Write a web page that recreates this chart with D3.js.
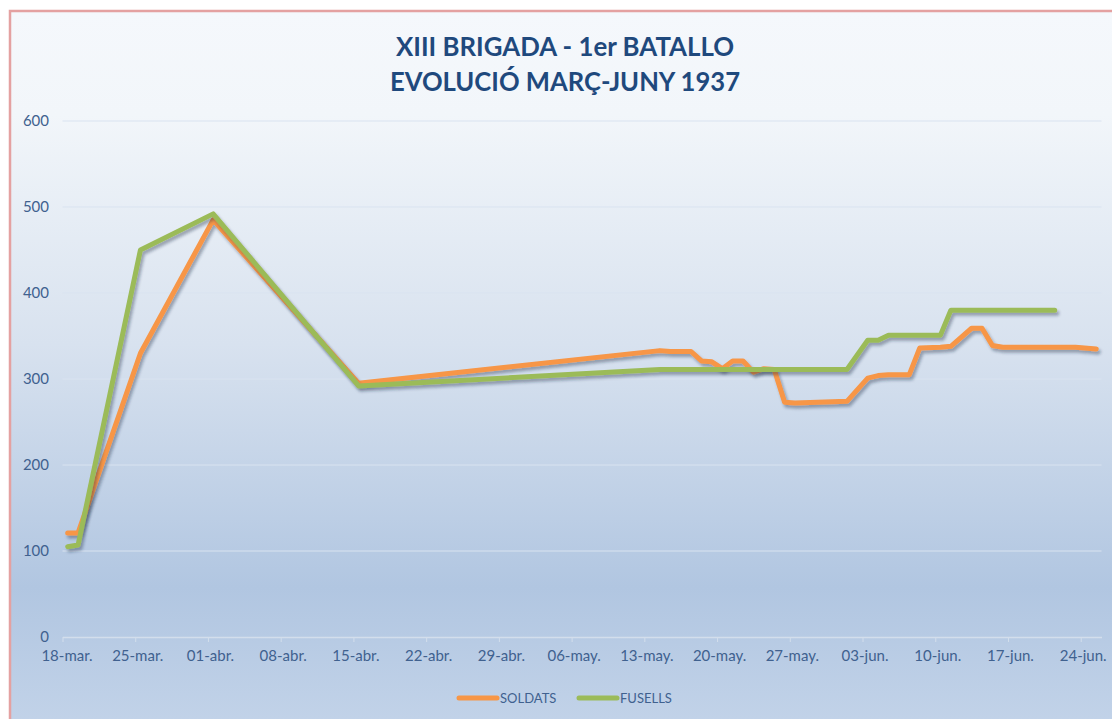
<!DOCTYPE html>
<html>
<head>
<meta charset="utf-8">
<script src="https://cdn.jsdelivr.net/npm/d3@7"></script>
<style>
  html, body { margin: 0; padding: 0; background: #ffffff; }
  svg { display: block; font-family: Lato, "Open Sans", sans-serif; }
</style>
</head>
<body>
<div id="chart"></div>
<script>
// data
const dates = [
  "1937-03-18", "1937-03-19", "1937-03-25", "1937-04-01", "1937-04-15",
  "1937-05-14", "1937-05-15", "1937-05-17", "1937-05-18", "1937-05-19",
  "1937-05-20", "1937-05-21", "1937-05-22", "1937-05-23", "1937-05-24",
  "1937-05-25", "1937-05-26", "1937-05-27", "1937-06-01", "1937-06-03",
  "1937-06-04", "1937-06-05", "1937-06-07", "1937-06-08", "1937-06-10",
  "1937-06-11", "1937-06-13", "1937-06-14", "1937-06-15", "1937-06-16",
  "1937-06-21", "1937-06-23", "1937-06-25"
];
const soldats = [
  121, 121, 330, 485, 295,
  333, 332, 332, 321, 320,
  312, 321, 321, 308, 312,
  311, 273, 272, 274, 301,
  304, 305, 305, 336, 337,
  338, 359, 359, 339, 337,
  337, 337, 335
];
const fusells = [
  105, 107, 450, 492, 292,
  311, 311, 311, 311, 311,
  311, 311, 311, 311, 311,
  311, 311, 311, 311, 345,
  345, 351, 351, 351, 351,
  380, 380, 380, 380, 380,
  380, null, null
];
const seriesNames = ["SOLDATS", "FUSELLS"];
const seriesColors = ["#f79646", "#9bbb59"];
const monthLabels = ["ene.", "feb.", "mar.", "abr.", "may.", "jun.", "jul."];
const yTicks = [0, 100, 200, 300, 400, 500, 600];
const titleLines = ["XIII BRIGADA - 1er BATALLO", "EVOLUCIÓ MARÇ-JUNY 1937"];

const W = 1112, H = 719;
const plot = { left: 62.5, right: 1101.5, top: 121, bottom: 637 };

const parse = d3.utcParse("%Y-%m-%d");
const start = parse("1937-03-18");
const end = parse("1937-06-26");

const x = d3.scaleUtc().domain([start, end]).range([plot.left, plot.right]);
const y = d3.scaleLinear().domain([0, 600]).range([plot.bottom, plot.top]);

const svg = d3.select("#chart").append("svg")
  .attr("width", W)
  .attr("height", H);

const defs = svg.append("defs");
const grad = defs.append("linearGradient")
  .attr("id", "bg")
  .attr("x1", 0).attr("y1", 0).attr("x2", 0).attr("y2", 1);
[["0%", "#f5f8fc"], ["14%", "#f2f6fa"], ["45%", "#d8e2ef"], ["78%", "#b1c6e1"], ["100%", "#c5d5ea"]]
  .forEach(s => grad.append("stop").attr("offset", s[0]).attr("stop-color", s[1]));

defs.append("filter")
  .attr("id", "shadow")
  .attr("filterUnits", "userSpaceOnUse")
  .attr("x", 0).attr("y", 0).attr("width", W).attr("height", H)
  .append("feDropShadow")
  .attr("dx", 2).attr("dy", 3)
  .attr("stdDeviation", 1.8)
  .attr("flood-color", "#1a2a40")
  .attr("flood-opacity", 0.38);

// chart area background + border
svg.append("rect")
  .attr("x", 10).attr("y", 11)
  .attr("width", W + 20).attr("height", H + 20)
  .attr("fill", "url(#bg)")
  .attr("stroke", "#e4a1a1")
  .attr("stroke-width", 2.5);

// title
svg.append("g")
  .selectAll("text")
  .data(titleLines)
  .enter().append("text")
  .attr("x", 565)
  .attr("y", (d, i) => 56 + i * 35)
  .attr("text-anchor", "middle")
  .attr("font-size", 26)
  .attr("font-weight", 700)
  .attr("fill", "#1f497d")
  .attr("textLength", (d, i) => i === 0 ? 338 : 350)
  .attr("lengthAdjust", "spacingAndGlyphs")
  .text(d => d);

// gridlines
svg.append("g")
  .selectAll("line")
  .data(yTicks.filter(v => v > 0))
  .enter().append("line")
  .attr("x1", plot.left).attr("x2", plot.right)
  .attr("y1", d => y(d)).attr("y2", d => y(d))
  .attr("stroke", "#d9e3f0")
  .attr("stroke-width", 1);

// y labels
svg.append("g")
  .selectAll("text")
  .data(yTicks)
  .enter().append("text")
  .attr("x", 49)
  .attr("y", d => y(d))
  .attr("dy", "0.35em")
  .attr("text-anchor", "end")
  .attr("font-size", 15)
  .attr("fill", "#40618f")
  .text(d => d);

// x axis
const xTicks = d3.utcDay.range(start, end, 7);
const fmtTick = d => d3.utcFormat("%d")(d) + "-" + monthLabels[d.getUTCMonth()];
const xAxis = svg.append("g")
  .attr("transform", `translate(0,${plot.bottom})`)
  .call(d3.axisBottom(x)
    .tickValues(xTicks)
    .tickFormat(fmtTick)
    .tickSizeInner(5)
    .tickSizeOuter(0)
    .tickPadding(8));
xAxis.select(".domain").attr("stroke", "#d3deec").attr("stroke-width", 1.5);
xAxis.selectAll(".tick line").attr("stroke", "#d3deec");
xAxis.selectAll(".tick text")
  .attr("font-family", "Lato, 'Open Sans', sans-serif")
  .attr("font-size", 15)
  .attr("fill", "#40618f")
  .attr("dx", (d, i) => i === 0 ? 4 : 2);

// lines, points sit in the middle of each day
const mid = d => new Date(parse(d).getTime() + 12 * 3600 * 1000);
const line = d3.line()
  .x(d => x(mid(d.date)))
  .y(d => y(d.value));

const seriesValues = [soldats, fusells];
seriesValues.forEach((vals, i) => {
  const pts = dates.map((d, j) => ({ date: d, value: vals[j] }))
    .filter(p => p.value != null);
  svg.append("path")
    .datum(pts)
    .attr("fill", "none")
    .attr("stroke", seriesColors[i])
    .attr("stroke-width", 5)
    .attr("stroke-linejoin", "round")
    .attr("stroke-linecap", "round")
    .attr("filter", "url(#shadow)")
    .attr("d", line);
});

// legend
const legendX = [459, 579];
const legend = svg.append("g")
  .selectAll("g")
  .data(seriesNames)
  .enter().append("g")
  .attr("transform", (d, i) => `translate(${legendX[i]},698)`);
legend.append("line")
  .attr("x1", 0).attr("x2", 38)
  .attr("stroke", (d, i) => seriesColors[i])
  .attr("stroke-width", 5)
  .attr("stroke-linecap", "round");
legend.append("text")
  .attr("x", 41)
  .attr("dy", "0.35em")
  .attr("font-size", 13)
  .attr("fill", "#40618f")
  .text(d => d);
</script>
</body>
</html>
